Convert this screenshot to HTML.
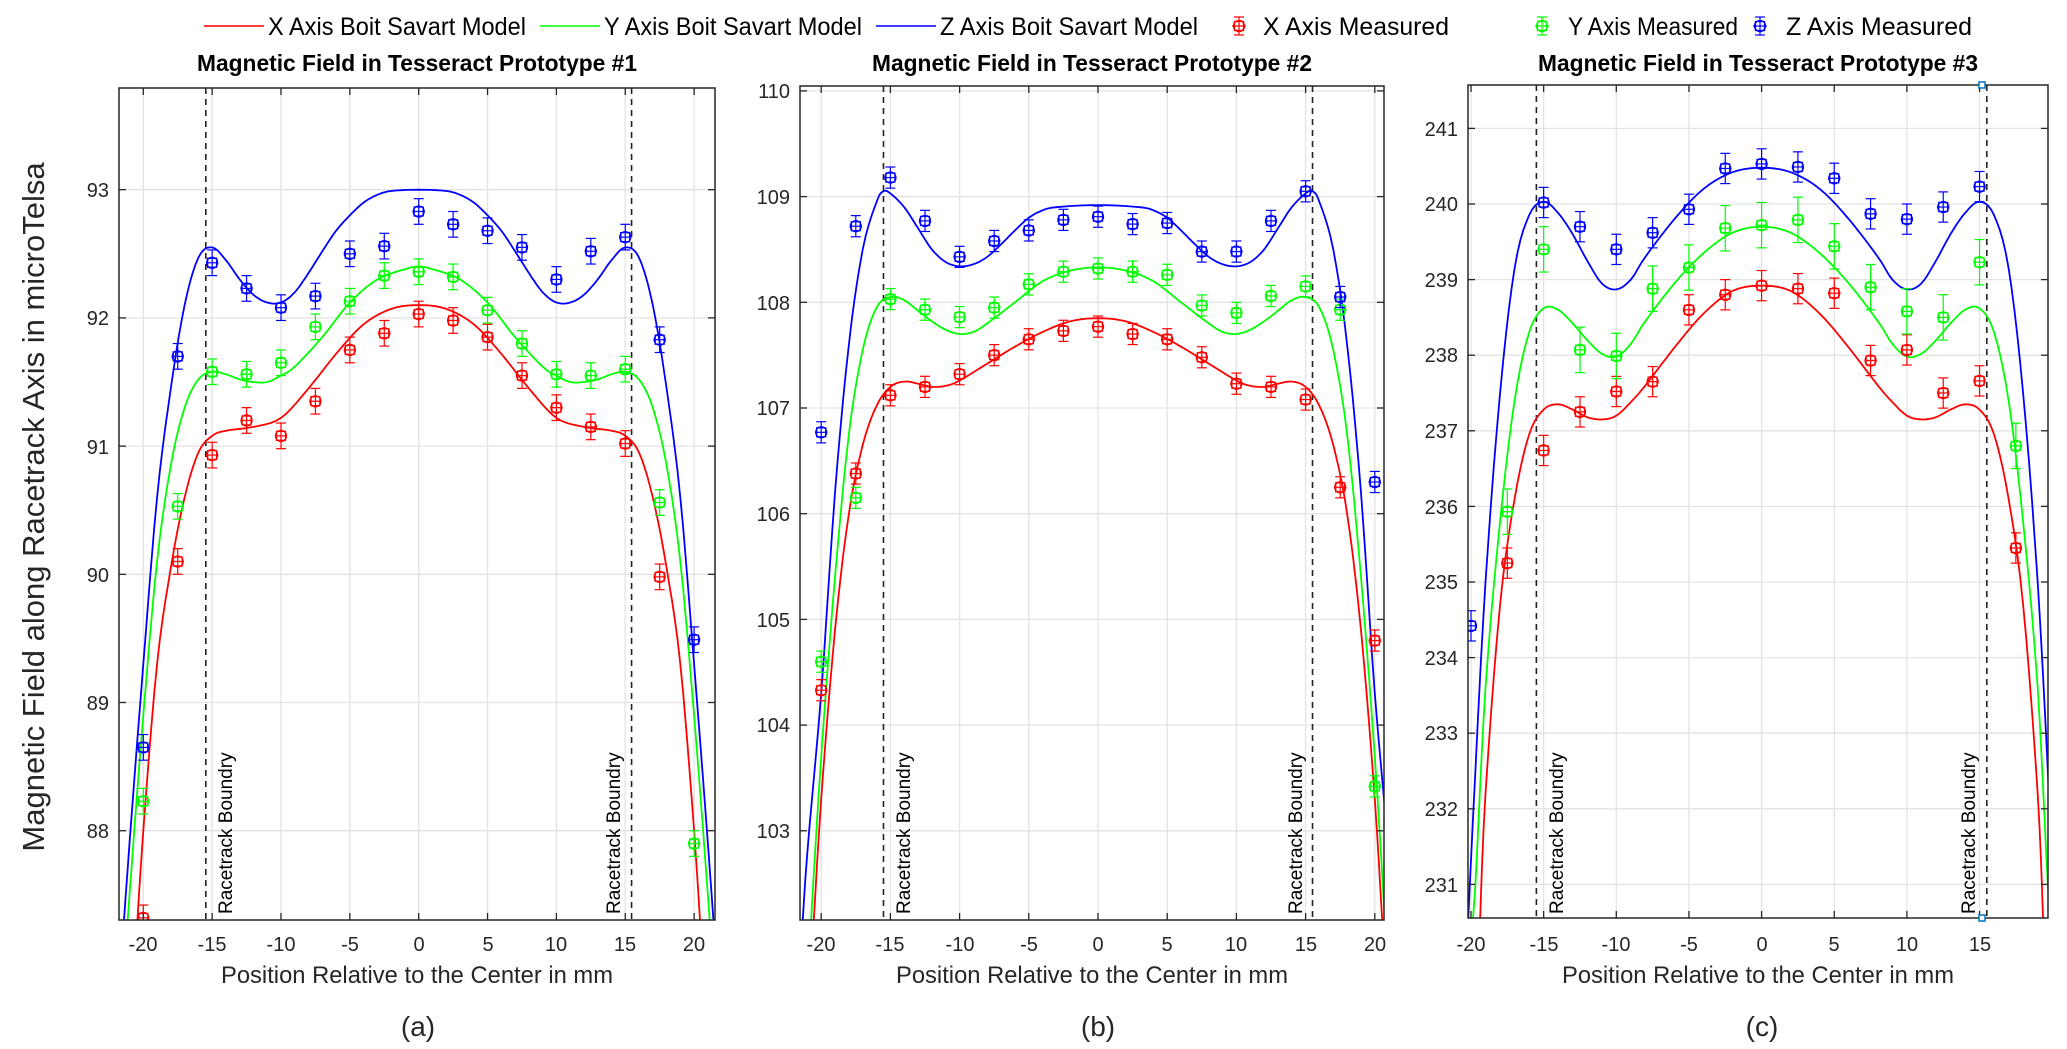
<!DOCTYPE html>
<html><head><meta charset="utf-8"><style>
html,body{margin:0;padding:0;background:#fff;}
svg{display:block;}
.t{font-family:"Liberation Sans Narrow","Liberation Sans",sans-serif;fill:#262626;}
.tk{font-size:20px;}
.ttl{font-size:23px;font-weight:bold;fill:#000;}
.xl{font-size:24px;}
.lg{font-family:"Liberation Sans Narrow","Liberation Sans",sans-serif;font-size:25px;fill:#000;}
.rb{font-family:"Liberation Sans",sans-serif;font-size:19px;fill:#000;}
</style></head><body>
<svg id="s" width="2067" height="1049" viewBox="0 0 2067 1049" xmlns="http://www.w3.org/2000/svg">
<rect width="2067" height="1049" fill="#fff"/>
<g id="grid"></g>
<g id="data"></g>
<g id="axes"></g>
<line x1="204" y1="26" x2="264" y2="26" stroke="#ff0000" stroke-width="1.5"/>
<text class="lg" x="268" y="35" textLength="258" lengthAdjust="spacingAndGlyphs">X Axis Boit Savart Model</text>
<line x1="540" y1="26" x2="600" y2="26" stroke="#00ff00" stroke-width="1.5"/>
<text class="lg" x="604" y="35" textLength="258" lengthAdjust="spacingAndGlyphs">Y Axis Boit Savart Model</text>
<line x1="876" y1="26" x2="936" y2="26" stroke="#0000ff" stroke-width="1.5"/>
<text class="lg" x="940" y="35" textLength="258" lengthAdjust="spacingAndGlyphs">Z Axis Boit Savart Model</text>
<g id="lgm"></g>
<text class="lg" x="1263" y="35" textLength="186" lengthAdjust="spacingAndGlyphs">X Axis Measured</text>
<text class="lg" x="1568" y="35" textLength="170" lengthAdjust="spacingAndGlyphs">Y Axis Measured</text>
<text class="lg" x="1786" y="35" textLength="186" lengthAdjust="spacingAndGlyphs">Z Axis Measured</text>
<text class="t ttl" x="417" y="71" text-anchor="middle" textLength="440" lengthAdjust="spacingAndGlyphs">Magnetic Field in Tesseract Prototype #1</text>
<text class="t ttl" x="1092" y="71" text-anchor="middle" textLength="440" lengthAdjust="spacingAndGlyphs">Magnetic Field in Tesseract Prototype #2</text>
<text class="t ttl" x="1758" y="71" text-anchor="middle" textLength="440" lengthAdjust="spacingAndGlyphs">Magnetic Field in Tesseract Prototype #3</text>
<text x="44" y="507" transform="rotate(-90 44 507)" text-anchor="middle" style="font-family:'Liberation Sans',sans-serif;font-size:31px;fill:#262626">Magnetic Field along Racetrack Axis in microTelsa</text>
<text class="t xl" x="417" y="983" text-anchor="middle" textLength="392" lengthAdjust="spacingAndGlyphs">Position Relative to the Center in mm</text>
<text class="t xl" x="1092" y="983" text-anchor="middle" textLength="392" lengthAdjust="spacingAndGlyphs">Position Relative to the Center in mm</text>
<text class="t xl" x="1758" y="983" text-anchor="middle" textLength="392" lengthAdjust="spacingAndGlyphs">Position Relative to the Center in mm</text>
<text class="t" style="font-size:28px" x="418" y="1036" text-anchor="middle">(a)</text>
<text class="t" style="font-size:28px" x="1098" y="1036" text-anchor="middle">(b)</text>
<text class="t" style="font-size:28px" x="1762" y="1036" text-anchor="middle">(c)</text>
<g class="t tk" text-anchor="end">
<text x="109" y="838">88</text><text x="109" y="710">89</text><text x="109" y="582">90</text><text x="109" y="454">91</text><text x="109" y="325">92</text><text x="109" y="197">93</text>
<text x="790" y="838">103</text><text x="790" y="732">104</text><text x="790" y="627">105</text><text x="790" y="521">106</text><text x="790" y="415">107</text><text x="790" y="310">108</text><text x="790" y="204">109</text><text x="790" y="98">110</text>
<text x="1458" y="892">231</text><text x="1458" y="816">232</text><text x="1458" y="740">233</text><text x="1458" y="665">234</text><text x="1458" y="589">235</text><text x="1458" y="514">236</text><text x="1458" y="438">237</text><text x="1458" y="362">238</text><text x="1458" y="287">239</text><text x="1458" y="211">240</text><text x="1458" y="136">241</text>
</g>
<g class="t tk" text-anchor="middle">
<text x="143" y="951">-20</text><text x="212" y="951">-15</text><text x="281" y="951">-10</text><text x="350" y="951">-5</text><text x="419" y="951">0</text><text x="488" y="951">5</text><text x="556" y="951">10</text><text x="625" y="951">15</text><text x="694" y="951">20</text>
<text x="821" y="951">-20</text><text x="890" y="951">-15</text><text x="960" y="951">-10</text><text x="1029" y="951">-5</text><text x="1098" y="951">0</text><text x="1167" y="951">5</text><text x="1236" y="951">10</text><text x="1306" y="951">15</text><text x="1375" y="951">20</text>
<text x="1471" y="951">-20</text><text x="1544" y="951">-15</text><text x="1616" y="951">-10</text><text x="1689" y="951">-5</text><text x="1762" y="951">0</text><text x="1834" y="951">5</text><text x="1907" y="951">10</text><text x="1980" y="951">15</text>
</g>
<text class="rb" transform="translate(232,914) rotate(-90)">Racetrack Boundry</text>
<text class="rb" transform="translate(620,914) rotate(-90)">Racetrack Boundry</text>
<text class="rb" transform="translate(910,914) rotate(-90)">Racetrack Boundry</text>
<text class="rb" transform="translate(1302,914) rotate(-90)">Racetrack Boundry</text>
<text class="rb" transform="translate(1563,914) rotate(-90)">Racetrack Boundry</text>
<text class="rb" transform="translate(1975,914) rotate(-90)">Racetrack Boundry</text>
</svg>
<script>
var NS="http://www.w3.org/2000/svg";
function el(p,n,a){var e=document.createElementNS(NS,n);for(var k in a)e.setAttribute(k,a[k]);p.appendChild(e);return e;}
var G=document.getElementById('grid'),D=document.getElementById('data'),A=document.getElementById('axes');
var P=[
{L:119,R:715,T:88,B:920,x0:418.7,xs:13.77,yr:93,ypr:189.7,ys:128.2,yt:[88,89,90,91,92,93],xt:[-20,-15,-10,-5,0,5,10,15,20],rb:15.46,
 m:{b:[[0,93],[2,92.99],[3,92.96],[4,92.9],[5,92.8],[6,92.68],[7,92.52],[8,92.35],[9,92.2],[10,92.12],[11,92.12],[12,92.18],[13,92.3],[14,92.45],[15,92.55],[16,92.47],[17,92.1],[18,91.45],[19,90.6],[20,89.3],[21,87.9],[21.6,87.0]],
    g:[[0,92.4],[1,92.38],[3,92.3],[5,92.12],[7,91.85],[9,91.62],[10,91.55],[11,91.5],[12,91.5],[13,91.52],[14,91.56],[15,91.58],[16,91.52],[17,91.3],[18,90.85],[19,90.1],[20,88.9],[21,87.5],[21.3,87.0]],
    r:[[0,92.1],[2,92.07],[4,91.95],[6,91.72],[8,91.45],[10,91.22],[12,91.15],[14,91.12],[15,91.08],[16,90.95],[17,90.6],[18,90.05],[19,89.3],[20,88.0],[20.6,87.0]]},
 d:{b:[88.65,91.7,92.43,92.23,92.08,92.17,92.5,92.56,92.83,92.73,92.68,92.55,92.3,92.52,92.63,91.83,89.49],
    g:[88.23,90.53,91.58,91.56,91.65,91.93,92.13,92.33,92.36,92.32,92.06,91.8,91.56,91.55,91.6,90.56,87.9],
    r:[87.32,90.1,90.93,91.2,91.08,91.35,91.75,91.88,92.03,91.98,91.85,91.55,91.3,91.15,91.02,89.98,null]},e:0.1},
{L:800,R:1384,T:86,B:920,x0:1098,xs:13.84,yr:108,ypr:302.3,ys:105.7,yt:[103,104,105,106,107,108,109,110],xt:[-20,-15,-10,-5,0,5,10,15,20],rb:15.5,
 m:{b:[[0,108.92],[3,108.9],[4,108.87],[5,108.8],[6,108.68],[7,108.55],[8,108.43],[9,108.36],[10,108.34],[11,108.38],[12,108.5],[13,108.7],[14,108.9],[15,109.03],[15.5,109.05],[16,108.95],[17,108.5],[18,107.6],[19,106.2],[20,104.3],[21,102.8],[21.5,101.8]],
    g:[[0,108.33],[2,108.3],[4,108.2],[6,108.0],[8,107.8],[9,107.72],[10,107.7],[11,107.74],[12,107.82],[13,107.92],[14,108.02],[15,108.05],[16,107.95],[17,107.55],[18,106.75],[19,105.4],[20,103.7],[20.8,102.0]],
    r:[[0,107.85],[2,107.82],[4,107.72],[6,107.58],[8,107.42],[10,107.26],[11,107.21],[12,107.2],[13,107.23],[14,107.25],[15,107.2],[16,107.02],[17,106.65],[18,106.0],[19,104.9],[20,103.3],[20.6,102.0]]},
 d:{b:[106.77,108.72,109.18,108.77,108.43,108.58,108.68,108.78,108.81,108.74,108.75,108.48,108.48,108.77,109.05,108.05,106.3],
    g:[104.6,106.15,108.03,107.93,107.86,107.95,108.17,108.29,108.32,108.29,108.26,107.97,107.9,108.06,108.15,107.93,103.42],
    r:[104.33,106.38,107.12,107.2,107.32,107.5,107.65,107.73,107.77,107.7,107.65,107.48,107.23,107.2,107.08,106.25,104.8]},e:0.1},
{L:1468,R:2048,T:85,B:918,x0:1761.6,xs:14.53,yr:240,ypr:204,ys:75.6,yt:[231,232,233,234,235,236,237,238,239,240,241],xt:[-20,-15,-10,-5,0,5,10,15],rb:15.5,
 m:{b:[[0,240.48],[2,240.42],[4,240.2],[6,239.8],[8,239.3],[9,239.0],[10,238.87],[11,238.95],[12,239.25],[13,239.6],[14,239.88],[15,240.03],[16,239.85],[17,239.15],[18,237.5],[19,235.0],[19.7,232.5],[20.2,230.5]],
    g:[[0,239.7],[2,239.62],[4,239.35],[6,238.95],[8,238.45],[9,238.15],[10,237.98],[11,238.02],[12,238.2],[13,238.42],[14,238.6],[15,238.62],[16,238.3],[17,237.4],[18,235.8],[19,233.6],[19.7,231.0],[20.0,230.3]],
    r:[[0,238.92],[2,238.85],[4,238.55],[6,238.1],[8,237.6],[9,237.38],[10,237.2],[11,237.15],[12,237.18],[13,237.28],[14,237.35],[15,237.28],[16,236.95],[17,236.1],[18,234.7],[19,232.2],[19.4,230.4]]},
 d:{b:[234.42,null,240.02,239.7,239.4,239.62,239.93,240.47,240.53,240.49,240.34,239.87,239.8,239.96,240.23,null,null],
    g:[null,235.93,239.4,238.07,237.99,238.88,239.16,239.68,239.72,239.79,239.44,238.9,238.58,238.5,239.23,236.8,null],
    r:[null,235.25,236.74,237.25,237.52,237.65,238.6,238.8,238.92,238.88,238.82,237.93,238.07,237.5,237.66,235.45,null]},e:0.2}
];
var col={r:"#ff0000",g:"#00ff00",b:"#0000ff"};
function cr(pts){
 var out=[];for(var i=0;i<pts.length-1;i++){var p0=pts[Math.max(0,i-1)],p1=pts[i],p2=pts[i+1],p3=pts[Math.min(pts.length-1,i+2)];
  for(var t=0;t<1;t+=0.2){var t2=t*t,t3=t2*t;
   var f=function(a,b,c,d){return 0.5*(2*b+(-a+c)*t+(2*a-5*b+4*c-d)*t2+(-a+3*b-3*c+d)*t3);};
   out.push([f(p0[0],p1[0],p2[0],p3[0]),f(p0[1],p1[1],p2[1],p3[1])]);}}
 out.push(pts[pts.length-1]);return out;}
function marker(g,x,y,c){el(g,'circle',{cx:x,cy:y,r:5.5,fill:'none',stroke:c,'stroke-width':1.3});el(g,'rect',{x:x-4.5,y:y-4.5,width:9,height:9,fill:'none',stroke:c,'stroke-width':1.3});}
var defs=el(document.getElementById('s'),'defs',{});
P.forEach(function(p,pi){
 var X=function(x){return p.x0+p.xs*x},Y=function(v){return p.ypr-(v-p.yr)*p.ys};
 p.yt.forEach(function(v){var y=Y(v);el(G,'line',{x1:p.L,x2:p.R,y1:y,y2:y,stroke:'#e3e3e3','stroke-width':1.3});
   el(A,'line',{x1:p.L,x2:p.L+7,y1:y,y2:y,stroke:'#262626','stroke-width':1.3});el(A,'line',{x1:p.R,x2:p.R-7,y1:y,y2:y,stroke:'#262626','stroke-width':1.3});});
 p.xt.forEach(function(v){var x=X(v);el(G,'line',{x1:x,x2:x,y1:p.T,y2:p.B,stroke:'#e3e3e3','stroke-width':1.3});
   el(A,'line',{x1:x,x2:x,y1:p.B,y2:p.B-7,stroke:'#262626','stroke-width':1.3});el(A,'line',{x1:x,x2:x,y1:p.T,y2:p.T+7,stroke:'#262626','stroke-width':1.3});});
 var cp=el(defs,'clipPath',{id:'c'+pi});
 el(cp,'rect',{x:p.L,y:p.T,width:p.R-p.L,height:p.B-p.T});
 var g=el(D,'g',{'clip-path':'url(#c'+pi+')'});
 [-1,1].forEach(function(s){var x=X(s*p.rb);el(g,'line',{x1:x,x2:x,y1:p.T,y2:p.B,stroke:'#222','stroke-width':1.6,'stroke-dasharray':'6,5'});});
 ['r','g','b'].forEach(function(k){
   var half=p.m[k],full=[];
   for(var i=half.length-1;i>0;i--)full.push([-half[i][0],half[i][1]]);
   half.forEach(function(q){full.push(q)});
   var s=cr(full).map(function(q){return X(q[0]).toFixed(1)+','+Y(q[1]).toFixed(1)}).join(' ');
   el(g,'polyline',{points:s,fill:'none',stroke:col[k],'stroke-width':1.8});
 });
 ['r','g','b'].forEach(function(k){
   p.d[k].forEach(function(v,i){if(v===null)return;var xv=-20+2.5*i;var x=X(xv),y=Y(v);
     var e=p.e*p.ys*(k==='g'&&pi==2?1.5:1);var c=col[k];
     el(g,'line',{x1:x,x2:x,y1:y-e,y2:y+e,stroke:c,'stroke-width':1.2});
     el(g,'line',{x1:x-5,x2:x+5,y1:y-e,y2:y-e,stroke:c,'stroke-width':1.2});
     el(g,'line',{x1:x-5,x2:x+5,y1:y+e,y2:y+e,stroke:c,'stroke-width':1.2});
     el(g,'line',{x1:x-6,x2:x+6,y1:y,y2:y,stroke:c,'stroke-width':1.2});
     marker(g,x,y,c);});
 });
 el(A,'rect',{x:p.L,y:p.T,width:p.R-p.L,height:p.B-p.T,fill:'none',stroke:'#262626','stroke-width':1.5});
});
el(A,'rect',{x:1979,y:82,width:6,height:6,fill:'#fff',stroke:'#0072bd','stroke-width':1.5});
el(A,'rect',{x:1979,y:915,width:6,height:6,fill:'#fff',stroke:'#0072bd','stroke-width':1.5});
var LG=document.getElementById('lgm');
[[1239,'#ff0000'],[1542,'#00ff00'],[1760,'#0000ff']].forEach(function(a){var x=a[0],y=26,c=a[1];
 el(LG,'line',{x1:x,x2:x,y1:y-9,y2:y+9,stroke:c,'stroke-width':1.2});el(LG,'line',{x1:x-5,x2:x+5,y1:y-9,y2:y-9,stroke:c,'stroke-width':1.2});
 el(LG,'line',{x1:x-5,x2:x+5,y1:y+9,y2:y+9,stroke:c,'stroke-width':1.2});el(LG,'line',{x1:x-7,x2:x+7,y1:y,y2:y,stroke:c,'stroke-width':1.2});
 marker(LG,x,y,c);});
</script>
</body></html>
